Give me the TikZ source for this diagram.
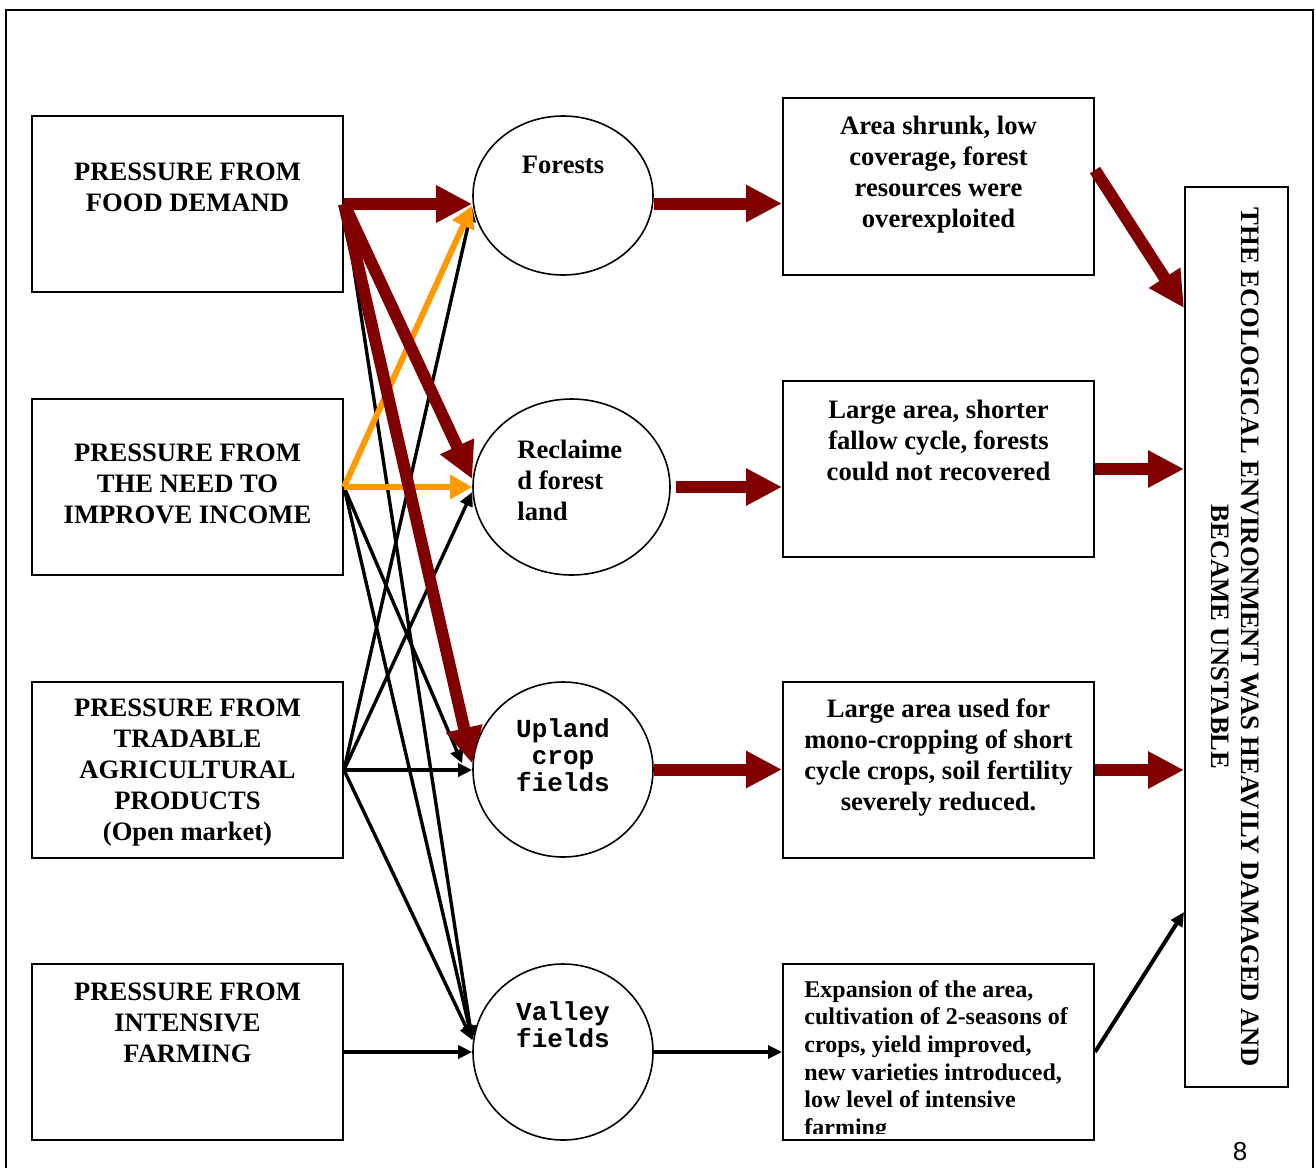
\documentclass[tikz,border=0pt]{standalone}
\usepackage{fontspec}
\setmainfont{Liberation Serif}
\newfontfamily\fieldfont{Liberation Mono}
\newfontfamily\pagefont{Liberation Sans}
\usetikzlibrary{shapes.geometric, arrows.meta}
\definecolor{darkred}{RGB}{128,0,0}
\definecolor{orangeline}{RGB}{255,153,0}

\tikzset{
  box/.style={draw=black, rectangle, line width=1pt, minimum width=155.5pt, minimum height=88pt, inner sep=0pt},
  field/.style={draw=black, ellipse, line width=0.8pt, inner sep=0pt},
  txt/.style={inner sep=0pt, align=center, font=\bfseries\fontsize{13.3}{15.5}\selectfont},
  monotxt/.style={inner sep=0pt, align=center, font=\fieldfont\bfseries\fontsize{13}{13.5}\selectfont},
  redarrow/.style={draw=darkred, line width=6pt, -{Triangle[length=18pt, width=17.5pt]}},
  orangearrow/.style={draw=orangeline, line width=3pt, -{Triangle[length=11pt, width=11.5pt]}},
  blackarrow/.style={draw=black, line width=1.7pt, -{Triangle[length=7pt, width=6.5pt]}}
}

\begin{document}
\begin{tikzpicture}[x=0.5pt, y=-0.5pt]
\useasboundingbox (0,0) rectangle (1316,1167);
\draw[line width=1.2pt] (6,10) rectangle (1313,1260);

% pressures
\node[box] (food) at (187.5,204) {};
\node[box] (income) at (187.5,487) {};
\node[box] (trade) at (187.5,770) {};
\node[box] (farming) at (187.5,1052) {};
\node[txt] (foodtext) at (187.5,187) {PRESSURE FROM\\FOOD DEMAND};
\node[txt] (incometext) at (187.5,484) {PRESSURE FROM\\THE NEED TO\\IMPROVE INCOME};
\node[txt] (tradetext) at (187.5,773) {PRESSURE FROM\\TRADABLE\\AGRICULTURAL\\PRODUCTS\\(Open market)};
\node[txt] (farmingtext) at (187.5,1023) {PRESSURE FROM\\INTENSIVE\\FARMING};

% land
\node[field, minimum width=90pt, minimum height=79.5pt] (forests) at (563,195.5) {};
\node[field, minimum width=98.5pt, minimum height=88pt] (reclaimed) at (571.5,487) {};
\node[field, minimum width=90pt, minimum height=87.5pt] (upland) at (563,769.5) {};
\node[field, minimum width=90pt, minimum height=88pt] (valley) at (563,1052) {};
\node[txt] (foreststext) at (563,165) {Forests};
\node[txt, align=left, anchor=west] (reclaimedtext) at (517,480) {Reclaime\\d forest\\land};
\node[monotxt] (uplandtext) at (563,755) {Upland\\crop\\fields};
\node[monotxt] (valleytext) at (563,1025) {Valley\\fields};

% effects
\node[box, minimum height=88.5pt] (effect1) at (938.5,186.5) {};
\node[box] (effect2) at (938.5,469) {};
\node[box] (effect3) at (938.5,770) {};
\node[box] (effect4) at (938.5,1052) {};
\node[txt] (effect1text) at (938.5,175) {Area shrunk, low\\coverage, forest\\resources were\\overexploited};
\node[txt] (effect2text) at (938.5,440) {Large area, shorter\\fallow cycle, forests\\could not recovered};
\node[txt] (effect3text) at (938.5,757.5) {Large area used for\\mono-cropping of short\\cycle crops, soil fertility\\severely reduced.};
\begin{scope}
\clip (783,964) rectangle (1094,1133);
\node[inner sep=0pt, align=left, anchor=north west, font=\bfseries\fontsize{12}{13.8}\selectfont] (effect4text) at (804,980)
  {Expansion of the area,\\cultivation of 2-seasons of\\crops, yield improved,\\new varieties introduced,\\low level of intensive\\farming};
\end{scope}

% result
\node[draw=black, line width=1pt, minimum width=51.5pt, minimum height=450pt, inner sep=0pt] (damage) at (1236.5,637) {};
\node[txt, rotate=-90, font=\bfseries\fontsize{13.3}{15}\selectfont] (damagetext) at (1235,637)
  {THE ECOLOGICAL ENVIRONMENT WAS HEAVILY DAMAGED AND\\BECAME UNSTABLE};
\node[inner sep=0pt, font=\pagefont\fontsize{13}{15}\selectfont] (pagenum) at (1240,1152) {8};

% black links
\draw[blackarrow] (food.east) -- ([yshift=6pt]valley.west);
\draw[blackarrow] (income.east) -- ([xshift=-5pt,yshift=3pt]upland.west);
\draw[blackarrow] (income.east) -- ([yshift=6pt]valley.west);
\draw[blackarrow] (trade.east) -- ([yshift=-6pt]forests.west);
\draw[blackarrow] (trade.east) -- ([yshift=-2.5pt]reclaimed.west);
\draw[blackarrow] (trade.east) -- (trade.east -| upland.west);
\draw[blackarrow] (trade.east) -- ([yshift=6pt]valley.west);
\draw[blackarrow] (farming.east) -- (farming.east -| valley.west);
\draw[blackarrow] (valley.east) -- (valley.east -| effect4.west);
\draw[blackarrow, line width=2pt] (effect4.east) -- ([yshift=-137.5pt]damage.west);

% orange links
\draw[orangearrow] (income.east) -- ([yshift=-5pt]forests.west);
\draw[orangearrow] (income.east) -- (income.east -| reclaimed.west);

% red links
\draw[redarrow] (food.east) -- (food.east -| forests.west);
\draw[redarrow] (food.east) -- ([yshift=4pt]reclaimed.west);
\draw[redarrow] (food.east) -- ([yshift=3pt]upland.west);
\draw[redarrow] ([yshift=-4pt]forests.east) -- ([yshift=-4pt]forests.east -| effect1.west);
\draw[redarrow] ([xshift=2.5pt]reclaimed.east) -- (reclaimed.east -| effect2.west);
\draw[redarrow] (upland.east) -- (upland.east -| effect3.west);
\draw[redarrow] (effect1.6) -- ([yshift=164.5pt]damage.west);
\draw[redarrow] (effect2.east) -- (effect2.east -| damage.west);
\draw[redarrow] (effect3.east) -- (effect3.east -| damage.west);

\end{tikzpicture}
\end{document}
